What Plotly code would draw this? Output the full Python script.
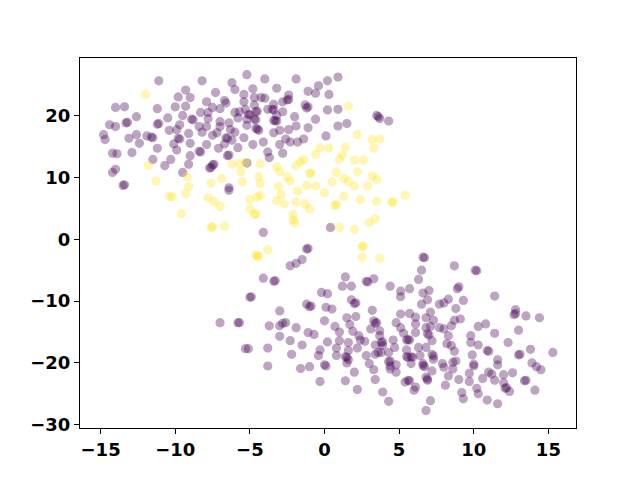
import plotly.graph_objects as go

# class 0 (purple) points
purple_pts = [
    (-11.1,25.6),(-8.2,25.6),(-6.2,25.3),(-6.0,24.2),(-5.2,26.6),(-9.3,24.1),(-9.8,23.0),(-9.0,22.9),(-7.3,23.7),
    (-14.0,21.3),(-13.4,21.4),(-11.2,21.1),(-10.0,21.4),(-9.3,21.5),(-7.9,22.2),(-6.7,22.4),(-6.6,22.0),(-5.4,23.4),
    (-5.4,22.2),(-8.3,20.5),(-7.8,20.5),(-7.5,21.3),(-7.0,21.1),(-6.0,20.5),(-5.7,20.6),(-5.3,21.0),(-12.6,19.8),
    (-13.3,18.8),(-13.2,18.9),(-14.4,18.5),(-14.0,18.2),(-11.2,18.6),(-11.1,18.7),(-10.5,19.6),(-9.5,20.0),(-8.9,19.4),
    (-8.8,19.3),(-7.8,19.5),(-7.0,19.0),(-6.4,18.8),(-5.8,19.6),(-5.2,19.4),(-9.7,18.5),(-14.8,16.9),(-14.7,16.1),
    (-13.1,16.3),(-12.6,16.9),(-12.4,15.5),(-11.9,16.7),(-11.6,16.5),(-11.5,16.4),(-10.4,17.6),(-9.9,17.7),(-9.1,17.1),
    (-8.4,18.2),(-8.2,17.3),(-7.9,18.2),(-7.5,16.8),(-7.2,17.2),(-7.0,18.2),(-6.6,16.4),(-6.5,16.3),(-6.3,17.7),
    (-6.0,17.3),(-5.4,16.4),(-10.1,15.4),(-9.8,16.3),(-9.7,16.2),(-9.0,15.5),(-11.2,14.7),(-9.9,14.4),(-9.0,13.5),
    (-8.4,14.2),(-8.3,14.1),(-7.9,15.3),(-7.1,14.7),(-6.7,15.4),(-6.2,16.0),(-5.8,14.8),(-6.5,13.5),(-6.4,13.6),
    (-14.2,13.9),(-13.9,13.8),(-12.9,14.0),(-11.5,12.9),(-10.7,11.9),(-10.3,12.9),(-9.5,10.8),(-9.1,12.1),(-7.7,11.5),
    (-7.6,11.6),(-7.5,12.0),(-7.4,12.1),(-14.2,10.8),(-14.0,11.3),(-13.5,8.7),(-13.4,8.8),(-6.4,8.3),(-6.4,7.9),(-5.2,12.3),
    (-4.0,25.9),(-1.9,25.9),(0.2,25.6),(0.9,26.2),(-0.4,24.8),(-1.1,23.9),(-0.6,23.6),(0.3,23.4),(-4.8,24.3),
    (-3.2,24.4),(-4.7,22.9),(-4.25,22.9),(-4.0,22.8),(-2.4,23.3),(-2.5,22.5),(-2.4,22.6),(-2.8,22.2),(-3.4,21.8),
    (-4.7,21.7),(-4.6,20.6),(-4.5,20.7),(-5.1,20.2),(-5.0,20.1),(-3.8,21.0),(-3.5,21.0),(-3.4,20.9),(-2.8,20.6),
    (-1.3,21.7),(-1.2,21.2),(-1.1,21.4),(0.2,20.9),(0.9,21.0),(-4.7,19.4),(-4.6,19.3),(-5.2,18.4),(-4.6,17.9),
    (-4.4,17.6),(-4.5,17.8),(-3.4,19.2),(-3.2,19.1),(-3.3,19.15),(-3.2,20.0),(-2.0,19.8),(-0.6,19.4),(-1.9,18.3),
    (-2.4,17.7),(-3.0,17.6),(-3.4,17.2),(-1.1,18.0),(0.9,18.3),(1.5,18.7),(-4.8,15.3),(-4.1,15.7),(-3.0,15.3),
    (-2.6,16.2),(-2.3,15.7),(-1.8,15.7),(-1.4,16.2),(0.1,16.7),(-3.8,14.1),(-3.7,13.2),(-2.8,13.9),(3.5,20.0),
    (3.7,19.5),(3.6,19.8),(4.3,19.1),
    (-4.1,1.1),(0.4,1.9),(-1.2,-1.6),(-1.1,-1.5),(-1.5,-3.3),(-1.9,-3.9),(-2.3,-4.3),(-4.1,-6.3),(-3.4,-6.8),
    (-3.3,-6.7),(-5.0,-9.4),(-4.9,-9.3),
    (1.4,-6.1),(1.2,-7.6),(1.8,-7.6),(2.9,-6.9),(2.8,-6.8),(3.3,-6.4),(4.4,-7.6),(5.1,-8.4),(5.1,-9.3),(5.7,-8.0),
    (-0.2,-8.6),(0.2,-8.8),(1.8,-9.8),(2.0,-10.4),(2.1,-10.3),(-3.0,-11.6),(-1.2,-10.5),(-1.0,-10.9),(-0.9,-10.8),
    (0.1,-11.0),(0.5,-11.3),(3.2,-11.5),(6.7,-3.0),(6.6,-2.9),(6.5,-5.0),(8.7,-4.3),(10.2,-5.1),(10.1,-5.0),
    (6.3,-6.5),(6.6,-8.7),(7.0,-8.3),(6.9,-9.8),(6.5,-10.5),(7.7,-10.5),(8.0,-10.3),(8.3,-9.7),(8.9,-8.0),(9.0,-7.7),
    (9.3,-9.9),(11.4,-9.2),(8.8,-11.2),(12.8,-11.4),(-7.0,-13.5),(-5.8,-13.5),(-5.7,-13.5),(-5.3,-17.7),(-5.1,-17.7),
    (-3.7,-14.0),(-3.0,-14.0),(-2.8,-13.6),(-2.6,-13.5),(-1.9,-14.3),(-3.0,-15.7),(-2.3,-16.4),(-1.1,-15.1),
    (-0.7,-15.4),(-1.5,-17.1),(-2.2,-18.6),(-3.8,-17.6),(-3.8,-20.5),(-1.6,-20.9),(-1.0,-20.6),(0.0,-13.2),
    (0.7,-14.1),(1.0,-15.0),(1.5,-12.7),(2.1,-12.5),(1.7,-13.8),(1.9,-14.9),(2.3,-15.6),(2.7,-16.5),(3.3,-13.2),
    (3.4,-13.6),(3.5,-13.5),(3.1,-14.5),(3.7,-14.8),(3.7,-15.6),(3.8,-16.7),(3.9,-16.6),(3.4,-17.1),(3.9,-17.2),
    (4.8,-13.5),(5.1,-14.3),(5.3,-15.2),(5.5,-16.3),(4.6,-16.3),(4.7,-17.5),(0.2,-16.6),(1.0,-16.4),(1.6,-16.7),
    (2.4,-16.3),(-0.3,-17.9),(-0.4,-18.8),(0.8,-17.6),(0.8,-18.8),(1.6,-18.0),(2.2,-17.6),(1.4,-19.0),(1.5,-19.1),
    (1.6,-19.5),(1.5,-20.0),(2.8,-18.8),(3.4,-18.6),(3.6,-18.3),(3.8,-18.3),(4.3,-18.3),(5.5,-17.9),(5.5,-19.0),
    (5.6,-19.1),(0.1,-20.5),(0.0,-20.3),(2.0,-21.5),(3.0,-20.1),(3.3,-21.1),(4.3,-19.8),(4.4,-19.7),(4.4,-20.5),
    (4.8,-20.3),(4.4,-21.0),(4.8,-21.5),(-0.3,-23.0),(1.4,-22.9),(2.2,-24.3),(3.4,-22.7),(3.9,-24.7),(4.3,-26.2),
    (5.4,-23.1),(5.6,-22.8),(5.7,-22.9),
    (12.7,-12.2),(12.8,-12.0),(13.5,-12.4),(14.4,-12.7),(5.1,-12.1),(5.7,-12.0),(6.1,-12.6),(6.8,-12.7),(7.1,-11.8),
    (7.3,-13.1),(8.7,-13.1),(9.1,-12.9),(6.1,-13.7),(5.6,-16.2),(5.7,-16.3),(6.1,-15.1),(6.8,-14.3),(7.1,-14.1),
    (7.0,-15.5),(6.9,-15.3),(7.2,-16.4),(7.7,-14.3),(8.0,-14.5),(8.5,-14.0),(8.3,-15.6),(8.2,-16.9),(8.5,-17.2),
    (8.7,-18.1),(6.8,-17.5),(6.3,-17.5),(5.8,-19.0),(5.9,-19.1),(6.4,-18.8),(7.2,-18.6),(7.3,-18.9),(7.3,-19.4),
    (5.8,-20.1),(6.6,-20.1),(6.7,-20.6),(6.6,-20.4),(7.2,-21.3),(7.9,-20.1),(8.0,-20.7),(8.6,-21.0),(8.6,-19.9),
    (8.8,-19.7),(8.3,-22.1),(6.8,-22.3),(6.9,-22.6),(6.9,-22.8),(6.1,-23.9),(6.0,-24.4),(8.1,-23.6),(9.0,-22.7),
    (9.8,-15.6),(9.8,-16.7),(10.3,-14.1),(10.8,-13.7),(10.3,-17.1),(10.9,-18.0),(11.0,-18.1),(9.9,-18.7),
    (10.0,-20.2),(10.0,-20.5),(9.7,-21.7),(9.7,-23.0),(9.2,-24.8),(9.3,-25.8),(10.2,-24.1),(10.3,-25.0),
    (10.9,-26.0),(10.6,-22.5),(11.0,-21.5),(11.2,-21.8),(11.4,-22.8),(11.4,-15.2),(11.6,-19.5),(11.6,-20.3),
    (12.0,-21.9),(12.0,-23.2),(12.1,-24.1),(12.2,-24.0),(12.4,-24.6),(12.6,-21.6),(12.3,-16.7),(13.0,-14.7),
    (13.0,-18.7),(13.1,-18.6),(13.8,-17.8),(13.9,-20.0),(14.2,-20.6),(14.5,-21.1),(13.4,-22.9),(13.5,-22.8),
    (14.1,-24.4),(15.3,-18.3),(11.6,-26.6),(7.1,-26.1),(6.8,-27.7),
]

# class 1 (yellow) points
yellow_pts = [
    (-12.0,23.4),(-11.8,11.9),(-11.3,9.4),(-9.2,10.1),(-9.1,8.5),(-7.6,9.0),(-6.9,9.8),(-6.2,12.1),(-5.7,12.2),
    (-5.3,12.4),(-5.6,10.9),(-5.5,9.3),
    (1.6,21.5),(2.2,16.9),(3.2,16.1),(3.7,16.2),(3.3,14.7),(-0.3,14.8),(0.3,14.7),(-0.6,13.7),(1.4,14.9),(1.2,13.6),
    (1.0,12.9),(2.0,12.8),(2.6,12.8),(-1.4,12.9),(-1.6,12.5),(-1.9,11.9),(-4.3,12.2),(-3.2,11.7),(-3.0,10.9),
    (-2.5,10.1),(-2.3,9.4),(-1.0,10.6),(-0.9,10.7),(0.8,10.8),(2.2,10.9),(-4.4,10.1),(-4.3,9.0),(-3.1,8.5),
    (-1.2,8.7),(-0.6,8.6),(0.5,9.3),(1.3,9.8),(1.6,9.3),(2.0,8.6),(3.2,10.2),(3.5,9.7),(2.9,8.6),
    (-10.2,6.9),(-10.4,6.9),(-9.3,7.4),(-7.8,6.7),(-7.4,6.1),(-7.0,5.3),(-9.6,4.1),(-7.6,1.9),(-7.5,2.0),(-6.7,2.1),
    (-5.0,6.4),(-5.0,4.9),
    (-1.8,7.8),(0.0,7.5),(-2.9,7.2),(-4.3,7.1),(-4.5,6.8),(-3.2,6.2),(-2.7,5.7),(-1.9,6.0),(-1.3,5.7),(-1.0,4.9),
    (0.8,5.6),(0.7,5.5),(1.3,6.9),(2.4,6.4),(3.5,6.1),(4.6,6.0),(4.5,6.0),(5.4,7.1),(-4.7,4.0),(-4.6,4.1),
    (-2.1,4.0),(-2.1,3.1),(-2.0,2.6),(1.0,1.9),(2.0,1.6),(3.0,2.7),(3.4,3.3),(2.5,-1.2),(2.6,-1.1),(2.5,-2.9),
    (3.7,-3.1),(-3.8,-1.7),(-4.6,-2.5),(-4.5,-2.8),(-4.4,-2.7),
]

purple_x = [p[0] for p in purple_pts]
purple_y = [p[1] for p in purple_pts]
yellow_x = [p[0] for p in yellow_pts]
yellow_y = [p[1] for p in yellow_pts]

x_ticks = [-15, -10, -5, 0, 5, 10, 15]
y_ticks = [-30, -20, -10, 0, 10, 20]

PURPLE = "#440154"
YELLOW = "#fde725"
ALPHA = 0.35

fig = go.Figure()
fig.add_trace(go.Scatter(
    x=purple_x, y=purple_y, mode="markers",
    marker=dict(size=8, color=PURPLE, opacity=ALPHA, line=dict(color=PURPLE, width=1.2)),
    showlegend=False, hoverinfo="skip"))
fig.add_trace(go.Scatter(
    x=yellow_x, y=yellow_y, mode="markers",
    marker=dict(size=8, color=YELLOW, opacity=ALPHA, line=dict(color=YELLOW, width=1.2)),
    showlegend=False, hoverinfo="skip"))

tickfont = dict(family="DejaVu Sans", size=18, color="black", weight="bold")
axis_common = dict(showgrid=False, zeroline=False, showline=True, mirror=True,
                   linecolor="black", linewidth=1, ticks="outside", ticklen=5,
                   tickwidth=1, tickcolor="black", tickfont=tickfont)

# page body has an 8px default margin, so the figure is sized to fit the 640x480 window
fig.update_layout(
    width=632, height=472,
    margin=dict(l=72, r=64, t=50, b=52),
    paper_bgcolor="white", plot_bgcolor="white",
    xaxis=dict(range=[-16.38, 16.85], tickvals=x_ticks,
               ticktext=[str(v).replace("-", "\u2212") for v in x_ticks], **axis_common),
    yaxis=dict(range=[-30.52, 29.29], tickvals=y_ticks,
               ticktext=[str(v).replace("-", "\u2212") for v in y_ticks], **axis_common),
)

fig.write_html("out.html")
